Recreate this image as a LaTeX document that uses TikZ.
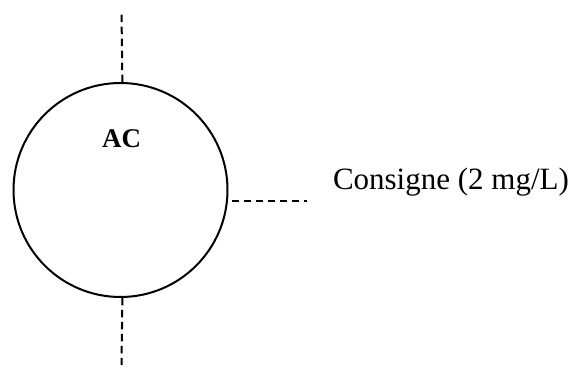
\documentclass[tikz,border=0pt]{standalone}
\usepackage{fontspec}
\setmainfont{Liberation Serif}
\usetikzlibrary{positioning}

\begin{document}
\begin{tikzpicture}[
    x = 1pt, y = 1pt,
    line width = 2pt, % line style
    signal/.style = {dashed, dash pattern = on 7.5pt off 4.5pt, line width = 2pt},
    every node/.style = {inner sep = 0pt}
    ]

    \useasboundingbox (0,0) rectangle (576,367);

    \tikzset{controller/.style={
    draw = black,
    circle,
    minimum size = 214pt
    }}
    \node[controller] (ac) at (120.5,177) {};
    \node[anchor=base, font=\fontsize{27}{30}\selectfont\bfseries] (tag) at (121.7,219.7) {AC};
    \node[anchor=base west, font=\fontsize{31}{36}\selectfont] (setpoint) at (332,177.7) {Consigne (2 mg/L)};

    \coordinate (in) at (121.5,355);
    \coordinate (out) at (121.5,2);
    \coordinate (sp) at (307,165);

    \draw[signal] (ac.89) -- (in);
    \draw[signal] (ac.-89) -- (out);
    \draw[signal, shorten <= 4pt] (ac.-6.5) -- (sp |- ac.-6.5);
\end{tikzpicture}
\end{document}
